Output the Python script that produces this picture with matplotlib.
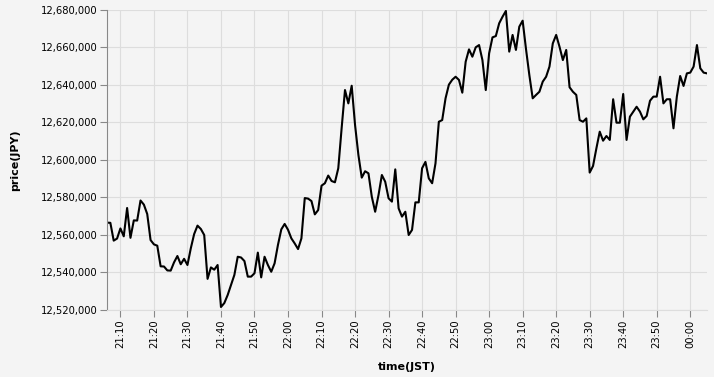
import pandas as pd
import matplotlib.pyplot as plt
import matplotlib.dates as mdates
from matplotlib.ticker import FuncFormatter

start_time = '2024-01-01 21:06'
price = [
    12566600, 12566500, 12557000, 12558100, 12563500, 12559300, 12574400, 12558500, 12567800, 12567700,
    12578400, 12576200, 12571200, 12557300, 12555000, 12554300, 12543300, 12543200, 12541100, 12541000,
    12545400, 12548800, 12544400, 12547300, 12544000, 12552900, 12560500, 12565000, 12563200, 12560000,
    12536600, 12542700, 12541500, 12544000, 12521600, 12523700, 12528000, 12533300, 12538700, 12548400,
    12548000, 12546100, 12537800, 12537800, 12539600, 12550600, 12537400, 12548400, 12544000, 12540400,
    12544900, 12554700, 12563000, 12565900, 12562800, 12558200, 12555500, 12552500, 12558200, 12579700,
    12579400, 12578100, 12571000, 12573300, 12586300, 12587600, 12591700, 12588800, 12588100, 12595600,
    12617000, 12637300, 12630200, 12639600, 12618700, 12602700, 12590600, 12594000, 12592900, 12580400,
    12572400, 12581300, 12592000, 12588400, 12579600, 12577800, 12595000, 12574200, 12569800, 12572400,
    12560000, 12562700, 12577400, 12577400, 12595600, 12599000, 12590200, 12587600, 12598200, 12620400,
    12621300, 12632900, 12640200, 12642800, 12644400, 12642700, 12635900, 12652400, 12659000, 12655100,
    12660100, 12661300, 12653300, 12637300, 12656900, 12665400, 12666100, 12672900, 12676400, 12679500,
    12657800, 12666700, 12658700, 12671100, 12674300, 12659200, 12645300, 12632900, 12634700, 12636400,
    12641800, 12644400, 12649800, 12662200, 12666700, 12660400, 12653300, 12658700, 12638800, 12636400,
    12634700, 12621300, 12620400, 12622200, 12593300, 12596800, 12606200, 12615100, 12610300, 12612800,
    12610700, 12632400, 12619900, 12619900, 12635200, 12610700, 12623100, 12625800, 12628400, 12625800,
    12621700, 12623500, 12631600, 12633800, 12633800, 12644400, 12630200, 12632400, 12632400, 12616900,
    12633800, 12644800, 12639500, 12646200, 12646600, 12649800, 12661300, 12648900, 12646600, 12646200,
]
time = pd.date_range(start_time, periods=len(price), freq='1min')

bg = '#f4f4f4'
grid_c = '#dddddd'
axis_c = '#888888'

plt.rcParams['font.family'] = 'DejaVu Sans'
fig = plt.figure(figsize=(7.14, 3.77), dpi=100, facecolor=bg)
ax = fig.add_axes([107 / 714, 67 / 377, 600 / 714, 300 / 377], facecolor=bg)

ax.plot(time, price, color='black', linewidth=1.5)

ax.set_xlim(time[0], time[-1])
ax.set_ylim(12520000, 12680000)
ax.set_yticks(range(12520000, 12680001, 20000))
ax.yaxis.set_major_formatter(FuncFormatter(lambda v, p: f'{int(v):,}'))

ax.xaxis.set_major_locator(mdates.MinuteLocator(byminute=range(0, 60, 10)))
ax.xaxis.set_major_formatter(mdates.DateFormatter('%H:%M'))
plt.setp(ax.get_xticklabels(), rotation=90, ha='center', va='top')

ax.grid(True, color=grid_c, linewidth=0.8)
ax.set_axisbelow(True)
for s in ['top', 'right']:
    ax.spines[s].set_visible(False)
ax.spines['bottom'].set_color(grid_c)
ax.spines['left'].set_color(axis_c)
ax.tick_params(axis='y', colors=axis_c, labelcolor='black', labelsize=7.2, length=5, pad=2)
ax.tick_params(axis='x', colors=axis_c, labelcolor='black', labelsize=7.2, length=5, pad=2)

ax.set_xlabel('time(JST)', fontsize=8, fontweight='bold', labelpad=10)
ax.set_ylabel('price(JPY)', fontsize=8, fontweight='bold', labelpad=15)

fig.savefig('out.png', dpi=100, facecolor=bg)
